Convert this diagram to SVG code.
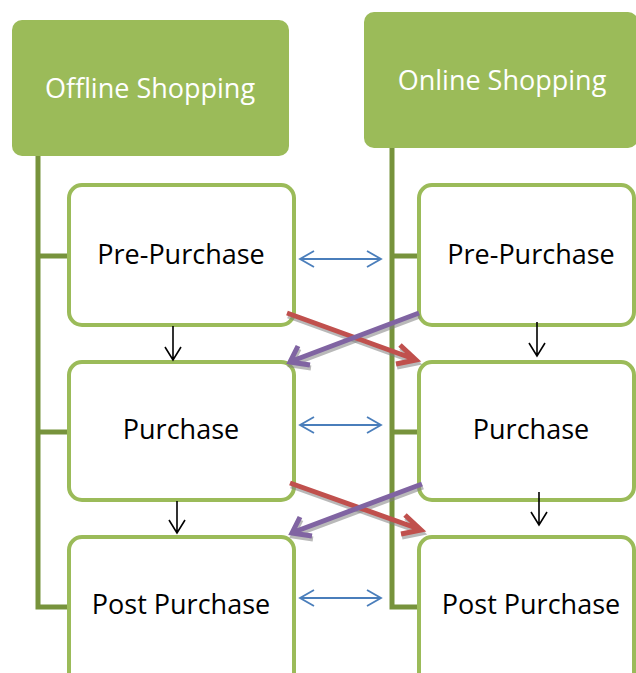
<svg xmlns="http://www.w3.org/2000/svg" width="636" height="673" viewBox="0 0 636 673">
<defs>
<style>
.hdr{fill:#9BBB59;}
.hdrtxt{fill:#fff;font-family:"Open Sans","Liberation Sans",sans-serif;font-size:27px;text-anchor:middle;}
.box{fill:#fff;stroke:#9BBB59;stroke-width:4;}
.txt{fill:#000;font-family:"Open Sans","Liberation Sans",sans-serif;font-size:27px;text-anchor:middle;}
.trunk{stroke:#77933C;stroke-width:5;fill:none;}
.blue{stroke:#4A7EBB;stroke-width:1.8;fill:none;}
.blk{stroke:#000;stroke-width:1.6;fill:none;}
.red{stroke:#C0504D;stroke-width:5;fill:none;stroke-linejoin:miter;}
.pur{stroke:#8064A2;stroke-width:5;fill:none;stroke-linejoin:miter;}
.shd{stroke:#7f7f7f;stroke-width:5;fill:none;opacity:0.55;}
</style>
</defs>
<rect width="636" height="673" fill="#fff"/>
<g id="connectors">
<path class="trunk" d="M38,156 V607 H69 M38,256 H69 M38,432 H69"/>
<path class="trunk" d="M392,148 V607 H419 M392,256 H419 M392,432 H419"/>
</g>
<g id="offline"><rect class="hdr" x="12" y="20" width="277" height="136" rx="10"/><text class="hdrtxt" x="150" y="98">Offline Shopping</text></g>
<g id="online"><rect class="hdr" x="364" y="12" width="274" height="136" rx="10"/><text class="hdrtxt" x="502" y="90">Online Shopping</text></g>
<g id="off-pre"><rect class="box" x="69" y="185" width="225" height="140" rx="13"/><text class="txt" x="181" y="264">Pre-Purchase</text></g>
<g id="off-pur"><rect class="box" x="69" y="362" width="225" height="138" rx="13"/><text class="txt" x="181" y="439">Purchase</text></g>
<g id="off-post"><rect class="box" x="69" y="537" width="225" height="150" rx="13"/><text class="txt" x="181" y="614">Post Purchase</text></g>
<g id="on-pre"><rect class="box" x="419" y="185" width="215" height="140" rx="13"/><text class="txt" x="531" y="264">Pre-Purchase</text></g>
<g id="on-pur"><rect class="box" x="419" y="362" width="215" height="138" rx="13"/><text class="txt" x="531" y="439">Purchase</text></g>
<g id="on-post"><rect class="box" x="419" y="537" width="215" height="150" rx="13"/><text class="txt" x="531" y="614">Post Purchase</text></g>
<g id="arrows">
<path class="blue" d="M300,259 H381 M314,251 L300,259 L314,267 M367,251 L381,259 L367,267"/>
<path class="blue" d="M300,425 H381 M314,417 L300,425 L314,433 M367,417 L381,425 L367,433"/>
<path class="blue" d="M300,598 H381 M314,590 L300,598 L314,606 M367,590 L381,598 L367,606"/>
<path class="blk" d="M173,326 V360 M165,347 L173,360 L181,347"/>
<path class="blk" d="M177,501 V533 M169,520 L177,533 L185,520"/>
<path class="blk" d="M537,322 V356 M529,343 L537,356 L545,343"/>
<path class="blk" d="M539,492 V525 M531,512 L539,525 L547,512"/>
<g transform="translate(1,3)">
<path class="shd" d="M287,313 L414,359 M400,345 L416,360 L396,364"/>
<path class="shd" d="M419,313 L292,361 M298,346 L290,362 L310,365"/>
<path class="shd" d="M290,483 L419,529 M405,515 L421,530 L401,534"/>
<path class="shd" d="M422,484 L294,532 M300,517 L292,533 L312,536"/>
</g>
<path class="red" d="M287,313 L414,359 M400,345 L416,360 L396,364"/>
<path class="pur" d="M419,313 L292,361 M298,346 L290,362 L310,365"/>
<path class="red" d="M290,483 L419,529 M405,515 L421,530 L401,534"/>
<path class="pur" d="M422,484 L294,532 M300,517 L292,533 L312,536"/>
</g>
</svg>
